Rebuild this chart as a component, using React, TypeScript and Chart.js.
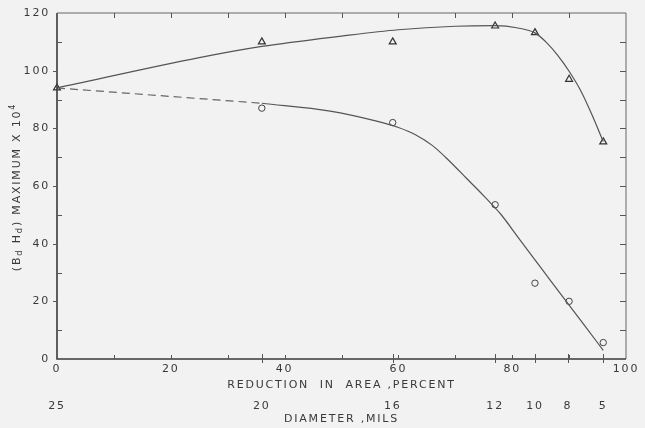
import React, { useEffect, useRef } from 'react';
import { Chart, registerables } from 'chart.js';

Chart.register(...registerables);

// Measured points (reduction in area, percent → (BdHd)max x 10^4)
const triangleX = [0, 36, 59, 77, 84, 90, 96];
const triangleY = [94, 110, 110, 115.5, 113.2, 97, 75.3];
const circleX = [36, 59, 77, 84, 90, 96];
const circleY = [87, 82, 53.5, 26.3, 20, 5.7];

// Faired curves
const upperCurveX = [0, 25, 36, 50, 60, 70, 77, 81, 84, 86, 88, 90, 92, 94, 96];
const upperCurveY = [94, 104.5, 108.4, 112, 114.2, 115.4, 115.6, 114.8, 113.1, 109.8, 105.3, 99.8, 93.2, 84.8, 75.4];
const lowerDashX = [0, 36];
const lowerDashY = [94, 88.7];
const lowerCurveX = [36, 48, 56, 60, 63, 66, 69, 72, 75, 78, 81, 84, 87, 90, 93, 96];
const lowerCurveY = [88.7, 86, 82.6, 80.3, 77.8, 74, 68.6, 62.6, 56.6, 50.2, 42.3, 34.4, 26.5, 18.7, 10.9, 3];

// Secondary axis: wire diameter, mils
const diameterLabels = ['25', '20', '16', '12', '10', '8', '5'];
const diameterPositions = [0, 36, 59, 77, 84, 89.8, 96];

const xTickStep = 20;
const yTickStep = 20;

const FONT = "'DejaVu Sans', sans-serif";
const TEXT = '#3a3a3a';
const LINE = '#555555';

const pts = (xs: number[], ys: number[]) => xs.map((x, i) => ({ x, y: ys[i] }));

const framePlugin = {
  id: 'framePlugin',
  beforeInit(chart: any) {
    try { chart.ctx.letterSpacing = '1.8px'; } catch (e) {}
  },
  beforeDraw(chart: any) {
    const ctx = chart.ctx;
    ctx.save();
    ctx.fillStyle = '#f2f2f2';
    ctx.fillRect(0, 0, chart.width, chart.height);
    ctx.restore();
    try { ctx.letterSpacing = '1.8px'; } catch (e) {}
  },
  afterDatasetsDraw(chart: any) {
    const ctx = chart.ctx;
    const { left, right, top, bottom } = chart.chartArea;
    const xs = chart.scales.x;
    const ys = chart.scales.y;
    ctx.save();
    ctx.strokeStyle = '#3a3a3a';
    ctx.lineWidth = 1.6;
    ctx.beginPath();
    ctx.moveTo(left, top);
    ctx.lineTo(left, bottom);
    ctx.lineTo(right, bottom);
    ctx.stroke();
    ctx.lineWidth = 1;
    ctx.strokeStyle = '#666';
    ctx.beginPath();
    ctx.moveTo(left, top);
    ctx.lineTo(right, top);
    ctx.lineTo(right, bottom);
    ctx.stroke();

    ctx.lineWidth = 1;
    ctx.strokeStyle = '#555';
    ctx.beginPath();
    for (let v = 10; v < 100; v += 10) {
      const px = Math.round(xs.getPixelForValue(v)) + 0.5;
      ctx.moveTo(px, bottom);
      ctx.lineTo(px, bottom - 4);
      ctx.moveTo(px, top);
      ctx.lineTo(px, top + 5);
    }
    for (let i = 1; i < diameterPositions.length; i++) {
      const px = Math.round(xs.getPixelForValue(diameterPositions[i])) + 0.5;
      ctx.moveTo(px, bottom + 4);
      ctx.lineTo(px, bottom - 5);
    }
    for (let v = 10; v < 120; v += 10) {
      const py = Math.round(ys.getPixelForValue(v)) + 0.5;
      if (v % 20 === 0) {
        ctx.moveTo(left - 4, py);
        ctx.lineTo(left, py);
      } else {
        ctx.moveTo(left, py);
        ctx.lineTo(left + 5, py);
      }
      ctx.moveTo(right, py);
      ctx.lineTo(right - 6, py);
    }
    ctx.stroke();
    ctx.restore();
  },
  afterDraw(chart: any) {
    const ctx = chart.ctx;
    const { top, bottom } = chart.chartArea;
    const cy = (top + bottom) / 2 + 1;
    const cx = 17;
    const segs = [
      { t: '(B', s: 11, dy: 0 },
      { t: 'd', s: 8.5, dy: 3 },
      { t: ' H', s: 11, dy: 0 },
      { t: 'd', s: 8.5, dy: 3 },
      { t: ') MAXIMUM X 10', s: 11, dy: 0 },
      { t: '4', s: 8, dy: -4.5 },
    ];
    ctx.save();
    try { ctx.letterSpacing = '1.8px'; } catch (e) {}
    ctx.fillStyle = TEXT;
    ctx.textBaseline = 'middle';
    ctx.textAlign = 'left';
    let total = 0;
    const widths = segs.map((sg) => {
      ctx.font = `${sg.s}px ${FONT}`;
      const w = ctx.measureText(sg.t).width;
      total += w;
      return w;
    });
    ctx.translate(cx, cy);
    ctx.rotate(-Math.PI / 2);
    let x = -total / 2;
    segs.forEach((sg, i) => {
      ctx.font = `${sg.s}px ${FONT}`;
      ctx.fillText(sg.t, x, sg.dy);
      x += widths[i];
    });
    ctx.restore();
  },
};

export default function App() {
  const ref = useRef<HTMLCanvasElement | null>(null);

  useEffect(() => {
    if (!ref.current) return;
    const lineBase = {
      showLine: true,
      borderColor: LINE,
      borderWidth: 1.2,
      pointRadius: 0,
      pointHoverRadius: 0,
      fill: false,
      cubicInterpolationMode: 'monotone' as const,
      clip: false as any,
    };
    const chart = new Chart(ref.current, {
      type: 'scatter',
      data: {
        datasets: [
          { ...lineBase, label: 'upper curve', data: pts(upperCurveX, upperCurveY) },
          { ...lineBase, label: 'lower extrapolation', data: pts(lowerDashX, lowerDashY), borderDash: [8, 5], borderColor: '#666' },
          { ...lineBase, label: 'lower curve', data: pts(lowerCurveX, lowerCurveY) },
          {
            label: 'triangles',
            data: pts(triangleX, triangleY),
            pointStyle: 'triangle',
            pointRadius: 4,
            borderColor: '#333',
            borderWidth: 1.2,
            backgroundColor: 'rgba(0,0,0,0)',
            clip: false as any,
          },
          {
            label: 'circles',
            data: pts(circleX, circleY),
            pointStyle: 'circle',
            pointRadius: 3.2,
            borderColor: '#444',
            borderWidth: 1,
            backgroundColor: 'rgba(0,0,0,0)',
            clip: false as any,
          },
        ],
      },
      options: {
        animation: false,
        responsive: true,
        maintainAspectRatio: false,
        layout: { padding: { left: 7, right: 19, top: 13, bottom: 3 } },
        plugins: { legend: { display: false }, tooltip: { enabled: false } },
        scales: {
          x: {
            type: 'linear',
            position: 'bottom',
            min: 0,
            max: 100,
            grid: { display: false, drawTicks: false },
            border: { display: false },
            ticks: {
              stepSize: xTickStep,
              padding: 5,
              maxRotation: 0,
              color: TEXT,
              font: { family: FONT, size: 11, lineHeight: 1 },
            },
            title: {
              display: true,
              text: 'REDUCTION  IN  AREA ,PERCENT',
              color: TEXT,
              padding: { top: 0, bottom: 0 },
              font: { family: FONT, size: 11, lineHeight: 1 },
            },
          },
          x2: {
            type: 'linear',
            position: 'bottom',
            min: 0,
            max: 100,
            afterBuildTicks: (s: any) => {
              s.ticks = diameterPositions.map((v) => ({ value: v }));
            },
            grid: { drawOnChartArea: false, drawTicks: true, tickLength: 10, color: 'rgba(0,0,0,0)' },
            border: { display: false },
            ticks: {
              autoSkip: false,
              maxRotation: 0,
              padding: 0,
              color: TEXT,
              font: { family: FONT, size: 11, lineHeight: 1 },
              callback: (_v: any, i: number) => diameterLabels[i],
            },
            title: {
              display: true,
              text: 'DIAMETER ,MILS',
              color: TEXT,
              padding: { top: 2, bottom: 0 },
              font: { family: FONT, size: 11, lineHeight: 1 },
            },
          },
          y: {
            type: 'linear',
            min: 0,
            max: 120,
            afterFit: (s: any) => {
              s.width = 50;
            },
            grid: { display: false, drawTicks: false },
            border: { display: false },
            ticks: {
              stepSize: yTickStep,
              padding: 7,
              color: TEXT,
              font: { family: FONT, size: 11, lineHeight: 1 },
            },
          },
        },
      },
      plugins: [framePlugin],
    });
    return () => chart.destroy();
  }, []);

  return (
    <div style={{ position: 'fixed', left: 0, top: 0, width: 645, height: 428 }}>
      <canvas ref={ref} />
    </div>
  );
}
